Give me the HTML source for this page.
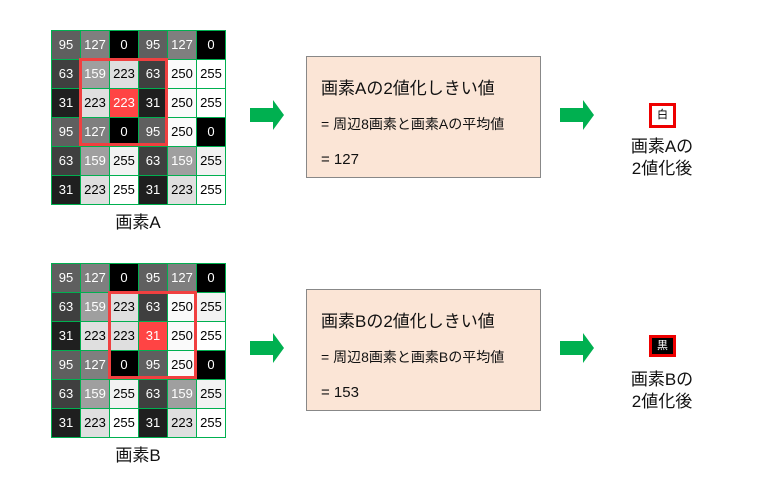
<!DOCTYPE html>
<html><head><meta charset="utf-8"><style>
body{margin:0;width:768px;height:480px;background:#fff;position:relative;overflow:hidden;font-family:"Liberation Sans","Noto Sans CJK JP",sans-serif;}
.g{position:absolute;border-collapse:collapse;}
.g td{width:28px;height:28px;padding:0;border:1px solid #00b050;text-align:center;font-size:13px;line-height:28px;}
.rb{position:absolute;border:3px solid #f04040;box-sizing:border-box;}
.box{position:absolute;left:306px;width:235px;height:122px;background:#fbe5d6;border:1px solid #888;box-sizing:border-box;color:#111;}
.box div{position:absolute;left:14px;white-space:nowrap;}
.lbl{position:absolute;font-size:17px;text-align:center;color:#111;line-height:22px;}
</style></head><body>

<table class="g" style="left:51px;top:30px">
<tr><td style="background:#5f5f5f;color:#fff">95</td><td style="background:#7f7f7f;color:#fff">127</td><td style="background:#000;color:#fff">0</td><td style="background:#5f5f5f;color:#fff">95</td><td style="background:#7f7f7f;color:#fff">127</td><td style="background:#000;color:#fff">0</td></tr>
<tr><td style="background:#3f3f3f;color:#fff">63</td><td style="background:#9f9f9f;color:#fff">159</td><td style="background:#dfdfdf">223</td><td style="background:#3f3f3f;color:#fff">63</td><td style="background:#fafafa">250</td><td style="background:#fff">255</td></tr>
<tr><td style="background:#1f1f1f;color:#fff">31</td><td style="background:#dfdfdf">223</td><td style="background:#f44;color:#fff">223</td><td style="background:#1f1f1f;color:#fff">31</td><td style="background:#fafafa">250</td><td style="background:#fff">255</td></tr>
<tr><td style="background:#5f5f5f;color:#fff">95</td><td style="background:#7f7f7f;color:#fff">127</td><td style="background:#000;color:#fff">0</td><td style="background:#5f5f5f;color:#fff">95</td><td style="background:#fafafa">250</td><td style="background:#000;color:#fff">0</td></tr>
<tr><td style="background:#3f3f3f;color:#fff">63</td><td style="background:#9f9f9f;color:#fff">159</td><td style="background:#f2f2f2">255</td><td style="background:#3f3f3f;color:#fff">63</td><td style="background:#9f9f9f;color:#fff">159</td><td style="background:#f2f2f2">255</td></tr>
<tr><td style="background:#1f1f1f;color:#fff">31</td><td style="background:#dfdfdf">223</td><td style="background:#fff">255</td><td style="background:#1f1f1f;color:#fff">31</td><td style="background:#dfdfdf">223</td><td style="background:#fff">255</td></tr>
</table>
<div class="rb" style="left:79px;top:58px;width:89px;height:88px"></div>
<div class="lbl" style="left:88px;top:212px;width:100px">画素A</div>

<table class="g" style="left:51px;top:263px">
<tr><td style="background:#5f5f5f;color:#fff">95</td><td style="background:#7f7f7f;color:#fff">127</td><td style="background:#000;color:#fff">0</td><td style="background:#5f5f5f;color:#fff">95</td><td style="background:#7f7f7f;color:#fff">127</td><td style="background:#000;color:#fff">0</td></tr>
<tr><td style="background:#3f3f3f;color:#fff">63</td><td style="background:#9f9f9f;color:#fff">159</td><td style="background:#dfdfdf">223</td><td style="background:#3f3f3f;color:#fff">63</td><td style="background:#fafafa">250</td><td style="background:#f2f2f2">255</td></tr>
<tr><td style="background:#1f1f1f;color:#fff">31</td><td style="background:#dfdfdf">223</td><td style="background:#dfdfdf">223</td><td style="background:#f44;color:#fff">31</td><td style="background:#fafafa">250</td><td style="background:#fff">255</td></tr>
<tr><td style="background:#5f5f5f;color:#fff">95</td><td style="background:#7f7f7f;color:#fff">127</td><td style="background:#000;color:#fff">0</td><td style="background:#5f5f5f;color:#fff">95</td><td style="background:#fafafa">250</td><td style="background:#000;color:#fff">0</td></tr>
<tr><td style="background:#3f3f3f;color:#fff">63</td><td style="background:#9f9f9f;color:#fff">159</td><td style="background:#f2f2f2">255</td><td style="background:#3f3f3f;color:#fff">63</td><td style="background:#9f9f9f;color:#fff">159</td><td style="background:#f2f2f2">255</td></tr>
<tr><td style="background:#1f1f1f;color:#fff">31</td><td style="background:#dfdfdf">223</td><td style="background:#fff">255</td><td style="background:#1f1f1f;color:#fff">31</td><td style="background:#dfdfdf">223</td><td style="background:#fff">255</td></tr>
</table>
<div class="rb" style="left:108px;top:291px;width:89px;height:88px"></div>
<div class="lbl" style="left:88px;top:445px;width:100px">画素B</div>

<svg style="position:absolute;left:0;top:0" width="768" height="480">
<polygon fill="#00b050" points="250,108 273,108 273,100 284,115 273,130 273,122 250,122"/>
<polygon fill="#00b050" points="560,108 583,108 583,100 594,115 583,130 583,122 560,122"/>
<polygon fill="#00b050" points="250,341 273,341 273,333 284,348 273,363 273,355 250,355"/>
<polygon fill="#00b050" points="560,341 583,341 583,333 594,348 583,363 583,355 560,355"/>
</svg>

<div class="box" style="top:56px">
<div style="top:17px;font-size:17px">画素Aの2値化しきい値</div>
<div style="top:57px;font-size:14px">= 周辺8画素と画素Aの平均値</div>
<div style="top:94px;font-size:15px">= 127</div>
</div>
<div class="box" style="top:289px">
<div style="top:17px;font-size:17px">画素Bの2値化しきい値</div>
<div style="top:57px;font-size:14px">= 周辺8画素と画素Bの平均値</div>
<div style="top:94px;font-size:15px">= 153</div>
</div>

<div style="position:absolute;left:649px;top:103px;width:27px;height:25px;border:3px solid #e00;box-sizing:border-box;background:#fff;font-size:11px;line-height:19px;text-align:center;color:#000">白</div>
<div class="lbl" style="left:612px;top:136px;width:100px">画素Aの<br>2値化後</div>
<div style="position:absolute;left:649px;top:335px;width:27px;height:22px;border:3px solid #e00;box-sizing:border-box;background:#000;font-size:11px;line-height:16px;text-align:center;color:#fff">黒</div>
<div class="lbl" style="left:612px;top:369px;width:100px">画素Bの<br>2値化後</div>
</body></html>
